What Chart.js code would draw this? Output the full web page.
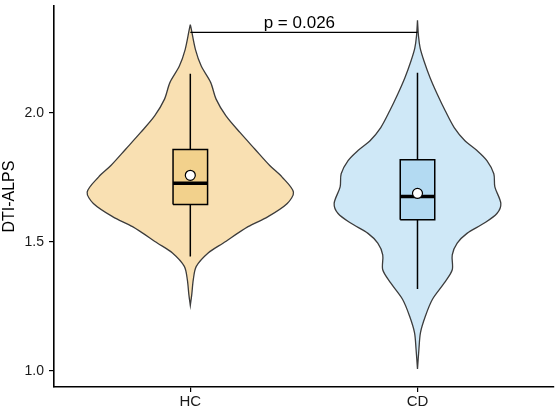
<!DOCTYPE html>
<html>
<head>
<meta charset="utf-8">
<script src="https://cdn.jsdelivr.net/npm/chart.js@4.4.0/dist/chart.umd.min.js"></script>
<style>
  html, body { margin: 0; padding: 0; background: #fff; }
  #wrap { width: 560px; height: 409px; }
</style>
</head>
<body>
<div id="wrap"><canvas id="myChart" width="560" height="409"></canvas></div>
<script>
// groups on the x axis
const groups = ['HC', 'CD'];
const yTicks = [1.0, 1.5, 2.0];

// violin outlines: y value and relative density
const hcViolinY = [2.342, 2.323, 2.245, 2.181, 2.117, 2.053, 1.988, 1.924, 1.860, 1.796, 1.751, 1.693, 1.649, 1.597, 1.559, 1.495, 1.457, 1.405, 1.354, 1.296, 1.254];
const hcDensity = [0, 0.01, 0.05, 0.106, 0.198, 0.25, 0.346, 0.481, 0.625, 0.77, 0.89, 1.0, 0.94, 0.75, 0.56, 0.317, 0.173, 0.058, 0.029, 0.014, 0];
const cdViolinY = [2.358, 2.296, 2.251, 2.200, 2.136, 2.072, 2.008, 1.943, 1.892, 1.854, 1.815, 1.764, 1.713, 1.649, 1.610, 1.572, 1.533, 1.495, 1.450, 1.392, 1.341, 1.277, 1.213, 1.149, 1.085, 1.008];
const cdDensity = [0, 0.01, 0.026, 0.064, 0.122, 0.192, 0.269, 0.356, 0.46, 0.577, 0.673, 0.74, 0.75, 0.808, 0.77, 0.644, 0.48, 0.385, 0.337, 0.337, 0.26, 0.144, 0.077, 0.029, 0.014, 0];

// box plot stats per group
const whiskerLow  = [1.443, 1.318];
const q1          = [1.645, 1.586];
const median      = [1.727, 1.676];
const q3          = [1.858, 1.818];
const whiskerHigh = [2.151, 2.155];
const means       = [1.758, 1.688];

// significance bracket
const pText = 'p = 0.026';
const bracketY = 2.312;

const violinHalf = 0.454;  // max half width in x units
const boxHalf = 0.076;
const violinFill = ['#F9E0B2', '#CFE8F7'];
const boxFill = ['#F2D18C', '#B3DAF2'];

Chart.defaults.font.family = '"Liberation Sans", Arial, sans-serif';
Chart.defaults.color = '#000';

function violinPoints(x, ys, dens) {
  let left = ys.map((y, i) => ({x: x - dens[i] * violinHalf, y: y}));
  let right = ys.map((y, i) => ({x: x + dens[i] * violinHalf, y: y})).reverse();
  return left.concat(right);
}

let datasets = [];
let violinData = [[hcViolinY, hcDensity], [cdViolinY, cdDensity]];

groups.forEach((g, i) => {
  let x = i + 1;
  datasets.push({
    data: violinPoints(x, violinData[i][0], violinData[i][1]),
    borderColor: '#3c3c3c', borderWidth: 1.3,
    backgroundColor: violinFill[i], fill: 'shape',
    pointRadius: 0, tension: 0.3, order: 10
  });
  // whiskers
  datasets.push({
    data: [{x: x, y: whiskerHigh[i]}, {x: x, y: q3[i]}],
    borderColor: '#000', borderWidth: 1.5, pointRadius: 0, fill: false, order: 8
  });
  datasets.push({
    data: [{x: x, y: q1[i]}, {x: x, y: whiskerLow[i]}],
    borderColor: '#000', borderWidth: 1.5, pointRadius: 0, fill: false, order: 8
  });
  // box
  datasets.push({
    data: [
      {x: x - boxHalf, y: q1[i]}, {x: x - boxHalf, y: q3[i]},
      {x: x + boxHalf, y: q3[i]}, {x: x + boxHalf, y: q1[i]},
      {x: x - boxHalf, y: q1[i]}
    ],
    borderColor: '#000', borderWidth: 1.5, backgroundColor: boxFill[i],
    fill: 'shape', pointRadius: 0, tension: 0, order: 6
  });
  // median
  datasets.push({
    data: [{x: x - boxHalf, y: median[i]}, {x: x + boxHalf, y: median[i]}],
    borderColor: '#000', borderWidth: 3.5, pointRadius: 0, fill: false, order: 4,
    borderCapStyle: 'butt'
  });
  // mean
  datasets.push({
    data: [{x: x, y: means[i]}],
    showLine: false, pointRadius: 5, pointBackgroundColor: '#fff',
    pointBorderColor: '#000', pointBorderWidth: 1.2, order: 2
  });
});

// bracket
datasets.push({
  data: [{x: 1, y: bracketY}, {x: 2, y: bracketY}],
  borderColor: '#000', borderWidth: 1.2, pointRadius: 0, fill: false, order: 1
});

const pLabel = {
  id: 'pLabel',
  afterDatasetsDraw(chart) {
    let c = chart.ctx;
    let xs = chart.scales.x, ys = chart.scales.y;
    c.save();
    c.font = '17px "Liberation Sans", Arial, sans-serif';
    c.fillStyle = '#000';
    c.textAlign = 'center';
    c.textBaseline = 'alphabetic';
    c.fillText(pText, xs.getPixelForValue(1.48), ys.getPixelForValue(bracketY) - 4);
    c.restore();
  }
};

let ctx = document.querySelector('#myChart').getContext('2d');
let chart = new Chart(ctx, {
  type: 'line',
  data: { datasets: datasets },
  options: {
    responsive: false,
    animation: false,
    layout: { padding: { top: 0, right: 3, left: 0, bottom: 0 } },
    plugins: { legend: { display: false }, tooltip: { enabled: false } },
    scales: {
      x: {
        type: 'linear', min: 0.4, max: 2.6,
        afterBuildTicks: s => { s.ticks = groups.map((g, i) => ({value: i + 1})); },
        afterFit: s => { s.height = 22; s.paddingLeft = 0; s.paddingRight = 0; },
        ticks: {
          callback: v => groups[v - 1],
          font: { size: 15 }, color: '#1a1a1a', padding: 1, maxRotation: 0
        },
        grid: { drawOnChartArea: false, drawTicks: true, tickLength: 5, color: '#000', lineWidth: 1.2 },
        border: { display: true, color: '#000', width: 1.6 }
      },
      y: {
        type: 'linear', min: 0.938, max: 2.413,
        afterBuildTicks: s => { s.ticks = yTicks.map(v => ({value: v})); },
        afterFit: s => { s.width = 54; s.paddingTop = 0; s.paddingBottom = 0; },
        ticks: {
          callback: v => v.toFixed(1),
          font: { size: 14 }, color: '#1a1a1a', padding: 5
        },
        title: { display: true, text: 'DTI-ALPS', font: { size: 16 }, color: '#000', padding: 0 },
        grid: { drawOnChartArea: false, drawTicks: true, tickLength: 5, color: '#000', lineWidth: 1.2 },
        border: { display: true, color: '#000', width: 1.6 }
      }
    }
  },
  plugins: [pLabel]
});
</script>
</body>
</html>
